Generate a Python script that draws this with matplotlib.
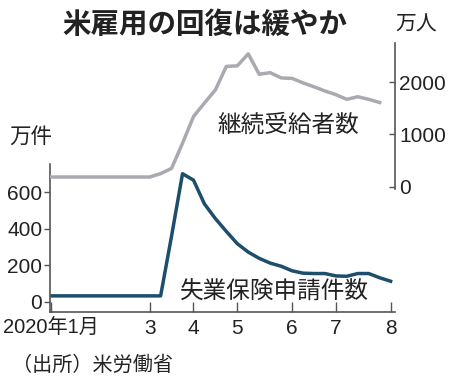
import matplotlib

matplotlib.use("Agg")
import matplotlib.pyplot as plt
from matplotlib import font_manager

# weekly data, week 0 = first week of Jan 2020
claims = [33, 33, 33, 33, 33, 33, 33, 33, 33, 33, 33,
          360, 700, 665, 535, 455, 385, 318, 272, 238, 212,
          195, 170, 157, 155, 155, 142, 140, 155, 155, 132, 113]  # 失業保険申請件数 (万件)
continuing = [185, 185, 185, 185, 185, 185, 185, 185, 185, 185,
              250, 350, 830, 1340, 1600, 1850, 2300, 2310, 2540, 2150,
              2180, 2080, 2070, 1985, 1910, 1830, 1760, 1670, 1720, 1670, 1610]  # 継続受給者数 (万人)
tick_weeks = [0, 9, 13, 17, 22, 26, 31]
tick_labels = ["2020年1月", "3", "4", "5", "6", "7", "8"]

names = {f.name for f in font_manager.fontManager.ttflist}
num_font = "Liberation Sans Narrow" if "Liberation Sans Narrow" in names else "Liberation Sans"
JP = ["Noto Sans CJK JP", "DejaVu Sans"]
MIX = [num_font, "Noto Sans CJK JP"]
plt.rcParams["font.family"] = MIX

TXT = "#222222"
SPINE = "#555555"
BLUE = "#1d4e6b"
GRAY = "#a9a9b1"

W, H = 450, 387
fig = plt.figure(figsize=(4.5, 3.87), dpi=100)


def box(x0, x1, ytop, ybot):
    return [x0 / W, 1 - ybot / H, (x1 - x0) / W, (ybot - ytop) / H]


xlim = (-0.1, 31.4)

# bottom panel: initial claims
ax1 = fig.add_axes(box(50, 395, 164, 312))
ax1.plot(range(len(claims)), claims, color=BLUE, lw=2.5, solid_joinstyle="round")
ax1.set_xlim(*xlim)
ax1.set_ylim(-55, 753)
ax1.set_yticks([0, 200, 400, 600])
ax1.set_xticks(tick_weeks)
ax1.set_xticklabels(tick_labels)
for s in ["top", "right"]:
    ax1.spines[s].set_visible(False)
for s in ["left", "bottom"]:
    ax1.spines[s].set_color(SPINE)
    ax1.spines[s].set_linewidth(1.2)
ax1.tick_params(axis="y", direction="out", length=4, width=1.0, color=SPINE,
                labelsize=15, labelcolor=TXT, pad=1.5)
ax1.tick_params(axis="x", direction="in", length=7, width=1.0, color=SPINE,
                labelsize=15, labelcolor=TXT, pad=5)
ax1.get_xticklabels()[0].set_fontsize(14.5)
ax1.patch.set_visible(False)

# top panel: continuing claims
ax2 = fig.add_axes(box(50, 395, 43, 189))
ax2.plot(range(len(continuing)), continuing, color=GRAY, lw=2.5, solid_joinstyle="round")
ax2.set_xlim(*xlim)
ax2.set_ylim(-44, 2747)
ax2.set_yticks([0, 1000, 2000])
ax2.yaxis.tick_right()
ax2.set_xticks([])
for s in ["top", "left", "bottom"]:
    ax2.spines[s].set_visible(False)
ax2.spines["right"].set_color(SPINE)
ax2.spines["right"].set_linewidth(1.2)
ax2.tick_params(axis="y", direction="in", length=4, width=1.0, color=SPINE,
                labelsize=15, labelcolor=TXT, pad=3)
ax2.patch.set_visible(False)

# texts (pixel positions converted to figure fraction)
def ftext(x, y, s, **kw):
    fig.text(x / W, 1 - y / H, s, color=TXT, family=JP, **kw)


ftext(205, 25, "米雇用の回復は緩やか", fontsize=20.5, fontweight="bold", ha="center", va="center")
ftext(416, 25, "万人", fontsize=15, ha="center", va="center")
ftext(31, 137, "万件", fontsize=15.5, ha="center", va="center")
ftext(288, 125, "継続受給者数", fontsize=17, ha="center", va="center")
ftext(274, 292, "失業保険申請件数", fontsize=17, ha="center", va="center")
ftext(12, 365, "（出所）米労働省", fontsize=14.5, ha="left", va="center")

fig.savefig("out.png", dpi=100, facecolor="white")
